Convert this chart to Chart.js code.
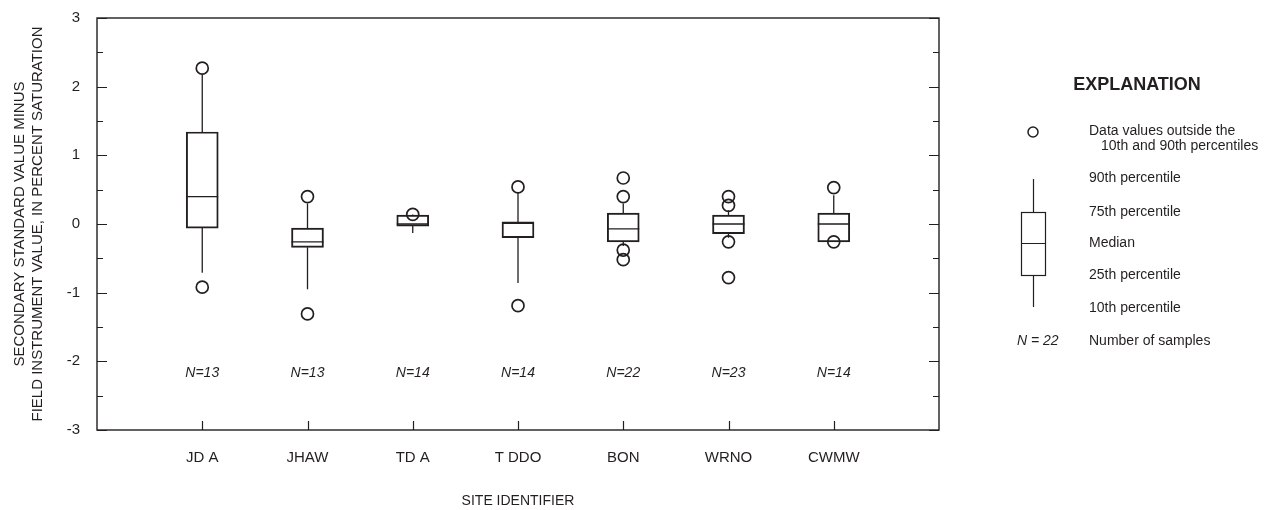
<!DOCTYPE html>
<html>
<head>
<meta charset="utf-8">
<script src="https://cdn.jsdelivr.net/npm/chart.js@4/dist/chart.umd.min.js"></script>
<style>
  html, body { margin: 0; padding: 0; background: #ffffff; }
  #wrap { width: 1273px; height: 510px; position: relative; }
</style>
</head>
<body>
<div id="wrap"><canvas id="chart" width="1273" height="510"></canvas></div>
<script>
// Site identifiers along the x axis
const categories = ['JD A', 'JHAW', 'TD A', 'T DDO', 'BON', 'WRNO', 'CWMW'];
// Number of samples per site
const sampleCounts = [13, 13, 14, 14, 22, 23, 14];
// Box-plot statistics, percent saturation
const p10    = [-0.71, -0.95, -0.13, -0.86, -0.32, -0.20, -0.26];
const q1     = [-0.06, -0.34, -0.03, -0.20, -0.26, -0.14, -0.26];
const median = [ 0.40, -0.26,  0.00,  0.01, -0.07,  0.00,  0.00];
const q3     = [ 1.34, -0.06,  0.13,  0.03,  0.16,  0.13,  0.16];
const p90    = [ 2.18,  0.30,  0.14,  0.45,  0.30,  0.20,  0.42];
// Values outside the 10th and 90th percentiles
const outliers = [
  [2.27, -0.92],
  [0.40, -1.31],
  [0.14],
  [0.54, -1.19],
  [0.67, 0.40, -0.38, -0.52],
  [0.40, 0.27, -0.26, -0.78],
  [0.53, -0.26]
];
// Y tick labels
const yTickLabels = ['-3', '-2', '-1', '0', '1', '2', '3'];

const INK = '#231f20';
const FONT = "'Liberation Sans', Arial, sans-serif";

const boxData = categories.map((c, i) => ({ x: i + 1, y: [q1[i], q3[i]] }));
const outlierData = [];
outliers.forEach((vals, i) => vals.forEach(v => outlierData.push({ x: i + 1, y: v })));

// Whiskers, medians, frame with inward ticks and sample counts
const boxExtras = {
  id: 'boxExtras',
  afterDatasetsDraw(chart) {
    const ctx = chart.ctx;
    const xs = chart.scales.x, ys = chart.scales.y;
    const area = chart.chartArea;
    const half = 16;
    ctx.save();
    ctx.strokeStyle = INK;
    ctx.lineWidth = 1.3;
    categories.forEach((c, i) => {
      const x = xs.getPixelForValue(i + 1);
      ctx.beginPath();
      ctx.moveTo(x - half, ys.getPixelForValue(median[i]));
      ctx.lineTo(x + half, ys.getPixelForValue(median[i]));
      ctx.moveTo(x, ys.getPixelForValue(q3[i]));
      ctx.lineTo(x, ys.getPixelForValue(p90[i]));
      ctx.moveTo(x, ys.getPixelForValue(q1[i]));
      ctx.lineTo(x, ys.getPixelForValue(p10[i]));
      ctx.stroke();
    });
    // frame
    ctx.lineWidth = 1.4;
    ctx.strokeRect(area.left, area.top, area.right - area.left, area.bottom - area.top);
    // y ticks inward on both sides
    ctx.lineWidth = 1.2;
    ys.ticks.forEach(t => {
      const y = Math.round(ys.getPixelForValue(t.value)) + 0.5;
      const len = Number.isInteger(t.value) ? 10 : 6;
      ctx.beginPath();
      ctx.moveTo(area.left, y); ctx.lineTo(area.left + len, y);
      ctx.moveTo(area.right, y); ctx.lineTo(area.right - len, y);
      ctx.stroke();
    });
    // x ticks inward
    xs.ticks.forEach(t => {
      const x = Math.round(xs.getPixelForValue(t.value)) + 0.5;
      ctx.beginPath();
      ctx.moveTo(x, area.bottom); ctx.lineTo(x, area.bottom - 9);
      ctx.stroke();
    });
    // sample counts
    ctx.fillStyle = INK;
    ctx.font = 'italic 14px ' + FONT;
    ctx.textAlign = 'center';
    ctx.textBaseline = 'middle';
    sampleCounts.forEach((n, i) => {
      ctx.fillText('N=' + n, xs.getPixelForValue(i + 1), ys.getPixelForValue(-2.17));
    });
    ctx.restore();
  }
};

// Explanation panel
const explanation = {
  id: 'explanation',
  afterDraw(chart) {
    const ctx = chart.ctx;
    ctx.save();
    ctx.fillStyle = INK;
    ctx.strokeStyle = INK;
    ctx.textBaseline = 'middle';
    ctx.font = 'bold 18px ' + FONT;
    ctx.textAlign = 'center';
    ctx.fillText('EXPLANATION', 1137, 85);

    ctx.lineWidth = 1.5;
    ctx.beginPath();
    ctx.arc(1033, 132, 5, 0, Math.PI * 2);
    ctx.stroke();

    ctx.lineWidth = 1.2;
    ctx.strokeRect(1021.5, 212.5, 24, 63);
    ctx.beginPath();
    ctx.moveTo(1021.5, 243.5); ctx.lineTo(1045.5, 243.5);
    ctx.moveTo(1033.5, 179); ctx.lineTo(1033.5, 212.5);
    ctx.moveTo(1033.5, 275.5); ctx.lineTo(1033.5, 307);
    ctx.stroke();

    ctx.font = '14px ' + FONT;
    ctx.textAlign = 'left';
    ctx.fillText('Data values outside the', 1089, 131);
    ctx.fillText('10th and 90th percentiles', 1101, 146);
    ctx.fillText('90th percentile', 1089, 178);
    ctx.fillText('75th percentile', 1089, 212);
    ctx.fillText('Median', 1089, 243);
    ctx.fillText('25th percentile', 1089, 275);
    ctx.fillText('10th percentile', 1089, 308);
    ctx.fillText('Number of samples', 1089, 341);
    ctx.font = 'italic 14px ' + FONT;
    ctx.fillText('N = 22', 1017, 341);
    ctx.restore();
  }
};

new Chart(document.getElementById('chart'), {
  type: 'bar',
  data: {
    datasets: [
      {
        type: 'bar',
        data: boxData,
        backgroundColor: 'rgba(0,0,0,0)',
        borderColor: INK,
        borderWidth: 1.3,
        borderSkipped: false,
        barThickness: 32,
        grouped: false
      },
      {
        type: 'scatter',
        data: outlierData,
        pointRadius: 6,
        pointHoverRadius: 6,
        pointBorderWidth: 1.7,
        pointBorderColor: INK,
        pointBackgroundColor: 'rgba(0,0,0,0)'
      }
    ]
  },
  options: {
    responsive: false,
    animation: false,
    events: [],
    layout: { padding: { top: 10, right: 334, left: 0, bottom: 0 } },
    plugins: { legend: { display: false }, tooltip: { enabled: false } },
    scales: {
      x: {
        type: 'linear',
        min: 0,
        max: 8,
        offset: false,
        afterBuildTicks(scale) {
          scale.ticks = categories.map((c, i) => ({ value: i + 1 }));
        },
        afterFit(scale) { scale.height = 80; },
        grid: { display: false },
        border: { display: false },
        ticks: {
          autoSkip: false,
          maxRotation: 0,
          padding: 11,
          color: INK,
          font: { family: FONT, size: 15 },
          callback: (v) => categories[Math.round(v) - 1] ?? ''
        },
        title: {
          display: true,
          text: 'SITE IDENTIFIER',
          color: INK,
          font: { family: FONT, size: 14 },
          padding: { top: 0, bottom: 0 }
        }
      },
      y: {
        min: -3,
        max: 3,
        afterFit(scale) { scale.width = 97; },
        grid: { display: false },
        border: { display: false },
        ticks: {
          stepSize: 0.5,
          autoSkip: false,
          padding: 9,
          color: INK,
          font: { family: FONT, size: 15 },
          callback: (v) => Number.isInteger(v) ? yTickLabels[v + 3] : ''
        },
        title: {
          display: true,
          text: ['SECONDARY STANDARD VALUE MINUS', 'FIELD INSTRUMENT VALUE, IN PERCENT SATURATION'],
          color: INK,
          font: { family: FONT, size: 15, lineHeight: 1.2 },
          padding: { top: 11, bottom: 0 }
        }
      }
    }
  },
  plugins: [boxExtras, explanation]
});
</script>
</body>
</html>
